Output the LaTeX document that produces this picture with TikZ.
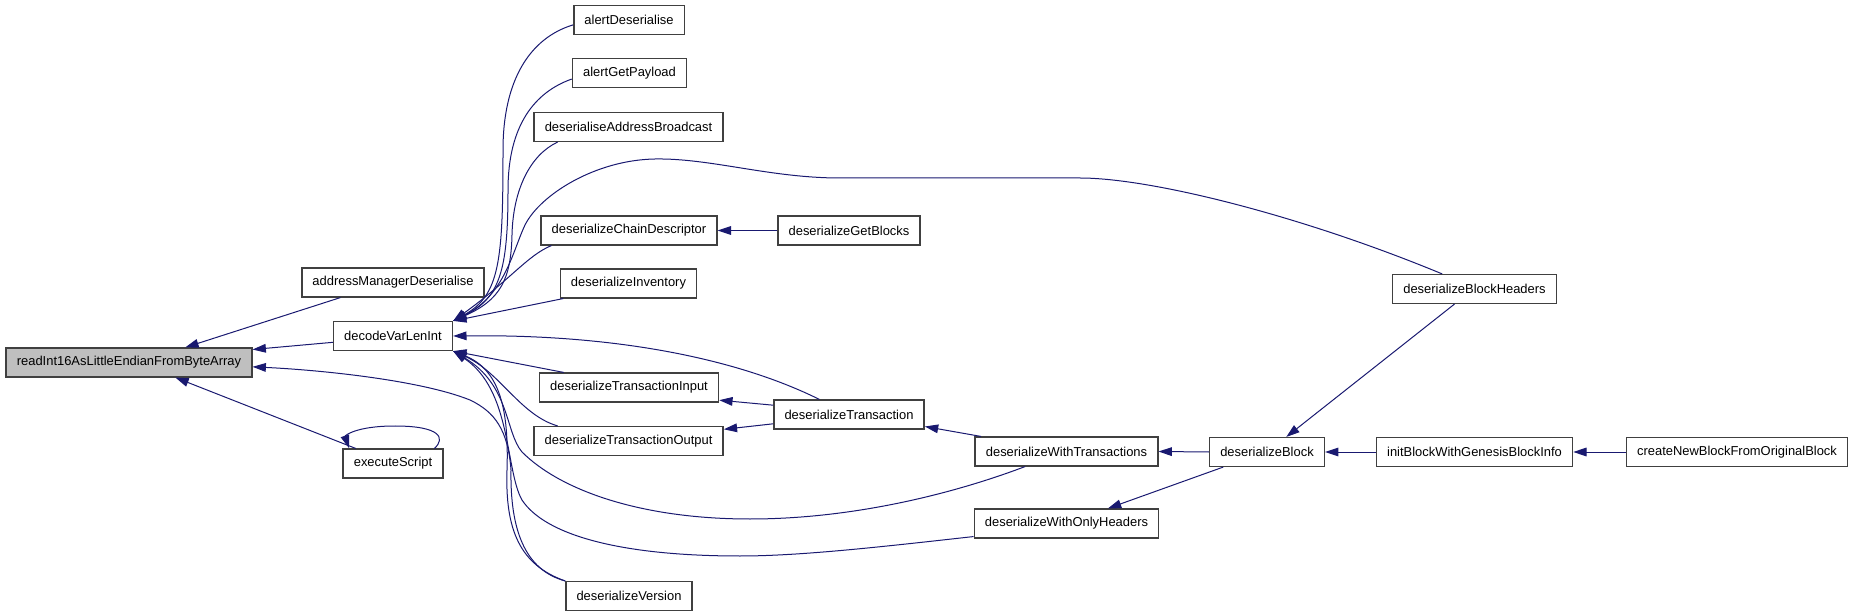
\documentclass[tikz,border=0pt]{standalone}
\usepackage{fontspec}
\setmainfont{Liberation Sans}
\usetikzlibrary{arrows.meta}
\definecolor{edgeblue}{RGB}{25,25,112}

\begin{document}
\begin{tikzpicture}[
  x=0.75pt, y=-0.75pt,
  >={Triangle[length=10pt,width=6.5pt]},
  every node/.style={font=\fontsize{9.7}{11.6}\selectfont},
  fn/.style   = {draw=black!75, line width=1.1pt, fill=white, inner xsep=8pt, inner ysep=0pt, minimum height=21.5pt},
  hl/.style   = {fn, fill=black!25},
  call/.style = {->, edgeblue, line width=0.75pt},
]
  \useasboundingbox (0,0) rectangle (1856,616);
  % functions
  \node[hl] (ri)   at (129,362.5)  {readInt16AsLittleEndianFromByteArray};
  \node[fn] (am)   at (393,282.5)  {addressManagerDeserialise};
  \node[fn] (dv)   at (393,336)    {decodeVarLenInt};
  \node[fn] (es)   at (393,463.5)  {executeScript};
  \node[fn] (ad)   at (629,20)     {alertDeserialise};
  \node[fn] (agp)  at (629.5,73)   {alertGetPayload};
  \node[fn] (dab)  at (628.5,127)  {deserialiseAddressBroadcast};
  \node[fn] (dcd)  at (629,230.5)  {deserializeChainDescriptor};
  \node[fn] (dinv) at (628.5,283.5){deserializeInventory};
  \node[fn] (dti)  at (629,387.5)  {deserializeTransactionInput};
  \node[fn] (dto)  at (628.5,441)  {deserializeTransactionOutput};
  \node[fn] (dver) at (629,596)    {deserializeVersion};
  \node[fn] (dgb)  at (849,230.5)  {deserializeGetBlocks};
  \node[fn] (dt)   at (849,414.5)  {deserializeTransaction};
  \node[fn] (dwt)  at (1066.5,451.5){deserializeWithTransactions};
  \node[fn] (dwoh) at (1066.5,523.5){deserializeWithOnlyHeaders};
  \node[fn] (dbh)  at (1474.5,289) {deserializeBlockHeaders};
  \node[fn] (db)   at (1267,452)   {deserializeBlock};
  \node[fn] (ib)   at (1474.5,452) {initBlockWithGenesisBlockInfo};
  \node[fn] (cn)   at (1737,452)   {createNewBlockFromOriginalBlock};
  % straight calls
  \foreach \a/\b in {am.196/ri.15, dv.186/ri.6, es.158/ri.-18, dinv.193/dv.north east, dti.167/dv.south east,
                     dgb.west/dcd.east, dt.173/dti.-8, dt.187/dto.7, dwt.170/dt.-9, db.west/dwt.east,
                     db.199/dwoh.20, dbh.217/db.38, ib.west/db.east, cn.west/ib.east}
    \draw[call] (\a) -- (\b);
  % curved calls
  \draw[call] (es.20) .. controls (446,438) and (440,426) .. (395,426) .. controls (355,426) and (345,436) .. (es.161);
  \draw[call] (ad.185) .. controls (530,38) and (503,80) .. (503,150) .. controls (503,260) and (500,295) .. (dv.north east);
  \draw[call] (agp.186) .. controls (535,92) and (508,125) .. (508,190) .. controls (508,270) and (500,298) .. (dv.north east);
  \draw[call] (dab.192) .. controls (530,155) and (513,190) .. (512,235) .. controls (511,280) and (500,300) .. (dv.north east);
  \draw[call] (dbh.155) .. controls (1300,215) and (1150,178) .. (1080,178) -- (840,178)
        .. controls (770,178) and (710,158) .. (655,159) .. controls (595,160) and (540,195) .. (525,225)
        .. controls (513,250) and (505,295) .. (dv.north east);
  \draw[call] (dcd.191) .. controls (528,255) and (510,280) .. (dv.north east);
  \draw[call] (dt.153) .. controls (740,360) and (620,334) .. (dv.east);
  \draw[call] (dto.168) .. controls (520,415) and (500,372) .. (dv.south east);
  \draw[call] (dwt.200) .. controls (950,495) and (850,519) .. (750,519) .. controls (640,519) and (560,490) .. (522,452)
        .. controls (505,432) and (510,385) .. (dv.south east);
  \draw[call] (dwoh.188) .. controls (880,547) and (800,556) .. (740,556) .. controls (620,556) and (545,535) .. (522,500)
        .. controls (505,470) and (512,390) .. (dv.south east);
  \draw[call] (dver.north west) .. controls (520,565) and (505,530) .. (507,470) .. controls (509,410) and (500,370) .. (dv.south east);
  \draw[call] (dver.north west) .. controls (525,570) and (510,530) .. (511,470) .. controls (508,430) and (495,412) .. (470,400)
        .. controls (420,380) and (320,370) .. (ri.-2.5);
\end{tikzpicture}
\end{document}
